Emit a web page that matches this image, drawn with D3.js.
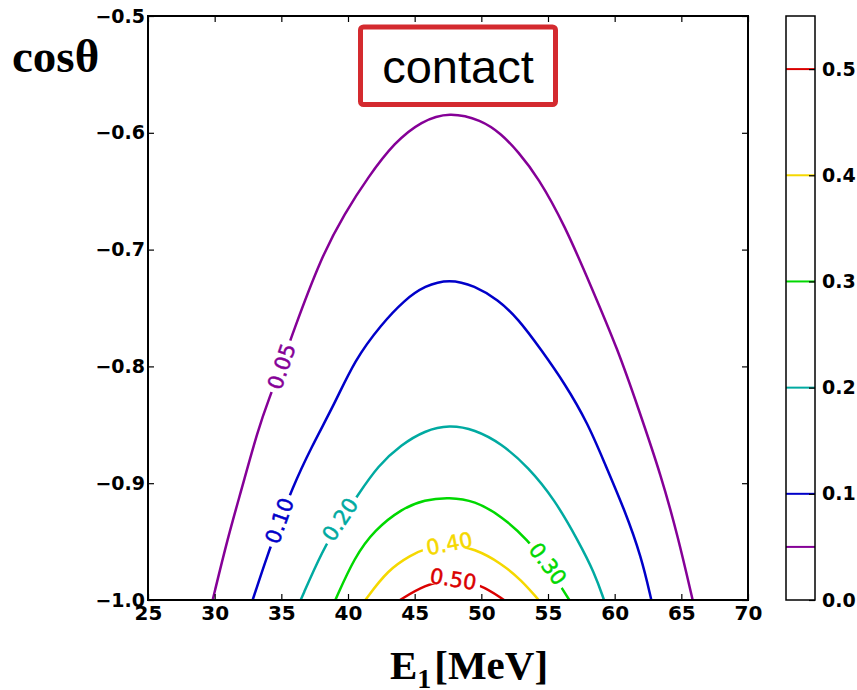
<!DOCTYPE html>
<html>
<head>
<meta charset="utf-8">
<script src="https://cdn.jsdelivr.net/npm/d3@7"></script>
<style>
	body { margin: 0; background: #fff; }
	svg { display: block; }
</style>
</head>
<body>
<div id="chart"></div>
<script>
// contour levels and their colours (nipy_spectral over 0..0.55)
var levels = [0.05, 0.10, 0.20, 0.30, 0.40, 0.50];
var levelColors = ["#850097", "#0000c9", "#00aaa1", "#00d800", "#f5d800", "#da0000"];

// contour lines: [E1 (MeV), cos theta]
var line005 = [[29.85,-1.0],[31.0,-0.946],[32.0,-0.906],[33.25,-0.854],[34.1,-0.827],[35.0,-0.800],[35.8,-0.773],
	[38.0,-0.706],[39.75,-0.669],[41.5,-0.638],[43.5,-0.608],[45.5,-0.590],[47.6,-0.582],[50.0,-0.589],
	[51.5,-0.601],[52.75,-0.616],[54.25,-0.638],[56.25,-0.679],[58.25,-0.732],[60.25,-0.786],[61.75,-0.835],
	[63.5,-0.894],[64.75,-0.946],[65.85,-1.0]];
var line010 = [[32.85,-1.0],[34.0,-0.960],[34.9,-0.933],[35.75,-0.906],[37.25,-0.869],[39.0,-0.832],[40.5,-0.7945],
	[42.5,-0.764],[44.25,-0.743],[45.75,-0.731],[47.6,-0.725],[49.5,-0.731],[51.25,-0.743],[52.75,-0.759],
	[54.5,-0.786],[56.25,-0.8145],[58.0,-0.849],[59.25,-0.883],[60.75,-0.923],[62.0,-0.963],[62.75,-1.0]];
var line020 = [[36.45,-1.0],[38.1,-0.957],[39.4,-0.933],[40.75,-0.910],[42.25,-0.885],[44.0,-0.867],[45.75,-0.855],
	[47.6,-0.850],[49.5,-0.854],[51.5,-0.866],[53.5,-0.886],[55.5,-0.914],[57.25,-0.949],[58.5,-0.977],[59.2,-1.0]];
var line030 = [[39.05,-1.0],[40.5,-0.963],[42.0,-0.940],[44.0,-0.922],[45.75,-0.914],[47.6,-0.912],[49.5,-0.915],
	[51.5,-0.928],[53.5,-0.9486],[55.0,-0.971],[56.6,-1.0]];
var line040 = [[41.3,-1.0],[43.0,-0.974],[44.75,-0.9615],[45.75,-0.956],[47.6,-0.952],[49.5,-0.956],[51.5,-0.9686],
	[53.0,-0.983],[54.3,-1.0]];
var line050 = [[43.9,-1.0],[45.75,-0.987],[47.7,-0.982],[49.9,-0.986],[51.7,-1.0]];
var contourLines = [line005, line010, line020, line030, line040, line050];

// inline labels: text and where it sits on its line
var labelText = ["0.05", "0.10", "0.20", "0.30", "0.40", "0.50"];
var labelE = [35.0, 34.85, 39.4, 55.0, 47.6, 47.9];
var labelC = [-0.800, -0.932, -0.931, -0.969, -0.9515, -0.982];

// ticks
var xTicks = [25, 30, 35, 40, 45, 50, 55, 60, 65, 70];
var yTicks = [-1.0, -0.9, -0.8, -0.7, -0.6, -0.5];
var cbTicks = [0.0, 0.1, 0.2, 0.3, 0.4, 0.5];

var W = 857, H = 690;
var plotL = 148, plotR = 748, plotT = 16, plotB = 600;
var tickFont = "'DejaVu Sans', sans-serif";

var svg = d3.select("#chart")
			.append("svg")
			.attr("width", W)
			.attr("height", H);

var x = d3.scaleLinear().domain([25, 70]).range([plotL, plotR]);
var y = d3.scaleLinear().domain([-1.0, -0.5]).range([plotB, plotT]);

svg.append("clipPath")
	.attr("id", "plotclip")
	.append("rect")
	.attr("x", plotL)
	.attr("y", plotT)
	.attr("width", plotR - plotL)
	.attr("height", plotB - plotT);

var line = d3.line()
			.x(function(d) { return x(d[0]); })
			.y(function(d) { return y(d[1]); })
			.curve(d3.curveBasis);

var plot = svg.append("g").attr("clip-path", "url(#plotclip)");

plot.selectAll("path.contour")
	.data(contourLines)
	.enter()
	.append("path")
	.attr("class", "contour")
	.attr("d", line)
	.attr("fill", "none")
	.attr("stroke", function(d, i) { return levelColors[i]; })
	.attr("stroke-width", 2.5);

// labels: angle taken from the line segment nearest the label
function labelAngle(i) {
	var pts = contourLines[i];
	var best = 0, bestD = Infinity;
	for (var k = 0; k < pts.length - 1; k++) {
		var mx = (x(pts[k][0]) + x(pts[k + 1][0])) / 2;
		var my = (y(pts[k][1]) + y(pts[k + 1][1])) / 2;
		var dd = Math.pow(mx - x(labelE[i]), 2) + Math.pow(my - y(labelC[i]), 2);
		if (dd < bestD) { bestD = dd; best = k; }
	}
	var dx = x(pts[best + 1][0]) - x(pts[best][0]);
	var dy = y(pts[best + 1][1]) - y(pts[best][1]);
	var a = Math.atan2(dy, dx) * 180 / Math.PI;
	if (a > 90) a -= 180;
	if (a < -90) a += 180;
	return a;
}

var labels = plot.selectAll("g.clabel")
	.data(labelText)
	.enter()
	.append("g")
	.attr("class", "clabel")
	.attr("transform", function(d, i) {
		return "translate(" + x(labelE[i]) + "," + y(labelC[i]) + ") rotate(" + labelAngle(i) + ")";
	});

var gapRects = labels.append("rect").attr("fill", "#fff");

var labelTexts = labels.append("text")
	.text(function(d) { return d; })
	.attr("text-anchor", "middle")
	.attr("dy", "0.36em")
	.attr("font-family", tickFont)
	.attr("font-size", 21)
	.attr("stroke", function(d, i) { return levelColors[i]; })
	.attr("stroke-width", 0.5)
	.attr("fill", function(d, i) { return levelColors[i]; });

labelTexts.each(function(d, i) {
	var w = this.getComputedTextLength() + 8;
	d3.select(gapRects.nodes()[i])
		.attr("x", -w / 2)
		.attr("y", -8)
		.attr("width", w)
		.attr("height", 16);
});

// axes with inward ticks on all four sides
svg.append("g")
	.attr("class", "xaxis")
	.attr("transform", "translate(0," + plotB + ")")
	.call(d3.axisBottom(x).tickValues(xTicks).tickFormat(d3.format("d")).tickSizeInner(-6).tickSizeOuter(0).tickPadding(6));
svg.append("g")
	.attr("transform", "translate(" + plotL + ",0)")
	.call(d3.axisLeft(y).tickValues(yTicks).tickFormat(d3.format(".1f")).tickSizeInner(-6).tickSizeOuter(0).tickPadding(3));
svg.append("g")
	.attr("transform", "translate(0," + plotT + ")")
	.call(d3.axisTop(x).tickValues(xTicks).tickFormat("").tickSizeInner(-6).tickSizeOuter(0));
svg.append("g")
	.attr("transform", "translate(" + plotR + ",0)")
	.call(d3.axisRight(y).tickValues(yTicks).tickFormat("").tickSizeInner(-6).tickSizeOuter(0));

// colorbar
var cbLeft = 786, cbRight = 815;
var cb = d3.scaleLinear().domain([0, 0.55]).range([plotB, plotT]);

svg.selectAll("line.cbline")
	.data(levels)
	.enter()
	.append("line")
	.attr("class", "cbline")
	.attr("x1", cbLeft)
	.attr("x2", cbRight)
	.attr("y1", function(d) { return cb(d); })
	.attr("y2", function(d) { return cb(d); })
	.attr("stroke", function(d, i) { return levelColors[i]; })
	.attr("stroke-width", 2);

svg.append("g")
	.attr("transform", "translate(" + cbRight + ",0)")
	.call(d3.axisRight(cb).tickValues(cbTicks).tickFormat(d3.format(".1f")).tickSizeInner(-6).tickSizeOuter(0).tickPadding(7));

svg.selectAll(".domain").remove();
svg.selectAll(".tick line").attr("stroke", "#000").attr("stroke-width", 1.2);
svg.selectAll(".tick text")
	.attr("font-family", tickFont)
	.attr("font-weight", "bold")
	.attr("font-size", 19)
	.attr("fill", "#000");
svg.selectAll(".xaxis .tick text").attr("font-size", 20);

svg.append("rect")
	.attr("x", plotL)
	.attr("y", plotT)
	.attr("width", plotR - plotL)
	.attr("height", plotB - plotT)
	.attr("fill", "none")
	.attr("stroke", "#000")
	.attr("stroke-width", 2);

svg.append("rect")
	.attr("x", cbLeft)
	.attr("y", plotT)
	.attr("width", cbRight - cbLeft)
	.attr("height", plotB - plotT)
	.attr("fill", "none")
	.attr("stroke", "#000")
	.attr("stroke-width", 1.5);

// axis titles
var serif = "'Liberation Serif', 'Times New Roman', serif";
svg.append("text")
	.attr("x", 12)
	.attr("y", 72)
	.attr("font-family", serif)
	.attr("font-weight", "bold")
	.attr("font-size", 47)
	.attr("fill", "#000")
	.text("cosθ");

var xt = svg.append("text")
	.attr("x", 469)
	.attr("y", 679)
	.attr("text-anchor", "middle")
	.attr("font-family", serif)
	.attr("font-weight", "bold")
	.attr("font-size", 41)
	.attr("fill", "#000");
xt.append("tspan").text("E");
xt.append("tspan").attr("font-size", 28).attr("dy", 9).text("1");
xt.append("tspan").attr("dy", -9).attr("dx", 3).text("[MeV]");

// "contact" box
svg.append("rect")
	.attr("x", 360.5)
	.attr("y", 27)
	.attr("width", 195)
	.attr("height", 77.5)
	.attr("rx", 3)
	.attr("fill", "#fff")
	.attr("stroke", "#d42a2f")
	.attr("stroke-width", 5);
svg.append("text")
	.attr("x", 458)
	.attr("y", 83)
	.attr("text-anchor", "middle")
	.attr("font-family", "'Liberation Sans', Arial, sans-serif")
	.attr("font-size", 47)
	.attr("fill", "#000")
	.text("contact");
</script>
</body>
</html>
